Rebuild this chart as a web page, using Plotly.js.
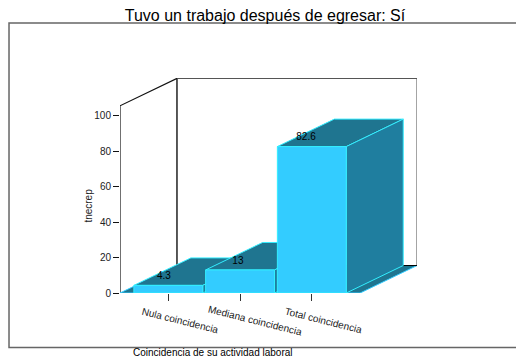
<!DOCTYPE html>
<html><head><meta charset="utf-8">
<script src="https://cdn.plot.ly/plotly-3.0.1.min.js"></script>
<style>html,body{margin:0;padding:0;background:#fff;overflow:hidden}</style>
</head><body><div id="chart" style="width:516px;height:356px"></div>
<script>
const categories = ["Nula coincidencia","Mediana coincidencia","Total coincidencia"];
const values = [4.3,13,82.6];
const valueLabels = ["4.3","13","82.6"];
const yTicks = [0,20,40,60,80,100];
const chartTitle = "Tuvo un trabajo después de egresar: Sí";
const xTitle = "Coincidencia de su actividad laboral";
const yTitle = "tnecrep";

// oblique projection, in data units
const depthX = 0.794, depthY = 15.5;
const halfBar = 0.48;
const floorLeft = -0.673, floorRight = 2.673;
const yWallTop = 105.6;
const labelNudge = [-0.06,-0.03,-0.08];
const catLabelNudge = [12,15,12];

const FRONT="#33ccff", EDGE="#33eeff", TOP="#1f7590", SIDE="#1f7e9f", FLOOR="#1f7590";

function poly(xs,ys,fill,line){
  return {type:"scatter",mode:"lines",x:xs.concat(xs[0]),y:ys.concat(ys[0]),fill:"toself",
    fillcolor:fill,line:{color:line,width:1},hoverinfo:"skip",showlegend:false,cliponaxis:false};
}
function path(xs,ys,color,w){
  return {type:"scatter",mode:"lines",x:xs,y:ys,line:{color:color,width:w},hoverinfo:"skip",showlegend:false,cliponaxis:false};
}
const traces=[];
// back wall and y axis line
traces.push(path([floorLeft+depthX,floorLeft+depthX],[depthY,depthY+yWallTop],"#111",1.4));
traces.push(path([floorLeft+depthX,floorRight+depthX,floorRight+depthX],[depthY+yWallTop,depthY+yWallTop,depthY],"#555",1.2));
traces.push(path([floorLeft,floorLeft,floorLeft+depthX],[0,yWallTop,yWallTop+depthY],"#111",1.2));
// floor
traces.push(poly([floorLeft,floorRight,floorRight+depthX,floorLeft+depthX],[0,0,depthY,depthY],FLOOR,"#33ccff"));
traces.push(path([floorLeft+depthX,floorRight+depthX],[depthY,depthY],"#000",1));
// bars
values.forEach((v,i)=>{
  const l=i-halfBar,r=i+halfBar;
  traces.push(poly([l,l+depthX,r+depthX,r],[v,v+depthY,v+depthY,v],TOP,EDGE));
  traces.push(poly([r,r+depthX,r+depthX,r],[0,depthY,v+depthY,v],SIDE,EDGE));
  traces.push(poly([l,r,r,l],[0,0,v,v],FRONT,EDGE));
});
// value labels
traces.push({type:"scatter",mode:"text",x:categories.map((c,i)=>i+labelNudge[i]),y:values.map(v=>v+4.9),
  text:valueLabels,textposition:"middle center",textfont:{family:"Liberation Sans, Arial, sans-serif",size:10,color:"#000"},
  hoverinfo:"skip",showlegend:false,cliponaxis:false});

const font={family:"Liberation Sans, Arial, sans-serif",color:"#000"};
const layout={
  width:516,height:356,paper_bgcolor:"#fff",plot_bgcolor:"rgba(0,0,0,0)",showlegend:false,
  margin:{l:120,r:99,t:77.7,b:63},
  title:{text:chartTitle,font:Object.assign({},font,{size:16}),x:265/516,xanchor:"center",xref:"container",y:1-10/356,yanchor:"top",yref:"container"},
  xaxis:{range:[-0.673,3.466],tickmode:"array",tickvals:categories.map((c,i)=>i),ticktext:categories,showticklabels:false,
    ticks:"outside",ticklen:7,tickcolor:"#333",tickwidth:1,showgrid:false,zeroline:false,showline:false},
  yaxis:{range:[0,121.3],tickmode:"array",tickvals:yTicks,ticks:"outside",ticklen:6,tickcolor:"#111",tickwidth:1,
    showgrid:false,zeroline:false,showline:false,tickfont:Object.assign({},font,{size:10,color:"#222"})},
  annotations:categories.map((c,i)=>({text:c,xref:"x",yref:"y",x:i,xshift:catLabelNudge[i],y:0,yshift:-27,showarrow:false,textangle:14,
    font:Object.assign({},font,{size:10,color:"#222"}),xanchor:"center",yanchor:"middle"})).concat([
    {text:xTitle,xref:"paper",yref:"paper",x:(212.5-120)/297,y:(293-353)/215.3,showarrow:false,xanchor:"center",yanchor:"middle",font:Object.assign({},font,{size:10})},
    {text:yTitle,xref:"paper",yref:"paper",x:(89-120)/297,y:(293-205.5)/215.3,showarrow:false,xanchor:"center",yanchor:"middle",textangle:-90,font:Object.assign({},font,{size:10,color:"#222"})}
  ]),
  shapes:[{type:"rect",layer:"below",xref:"paper",yref:"paper",x0:-0.3737,x1:1.364,y0:-0.254,y1:1.2554,line:{color:"#666",width:1.5},fillcolor:"rgba(0,0,0,0)"}]
};
Plotly.newPlot("chart",traces,layout,{displayModeBar:false,staticPlot:true});
</script></body></html>
